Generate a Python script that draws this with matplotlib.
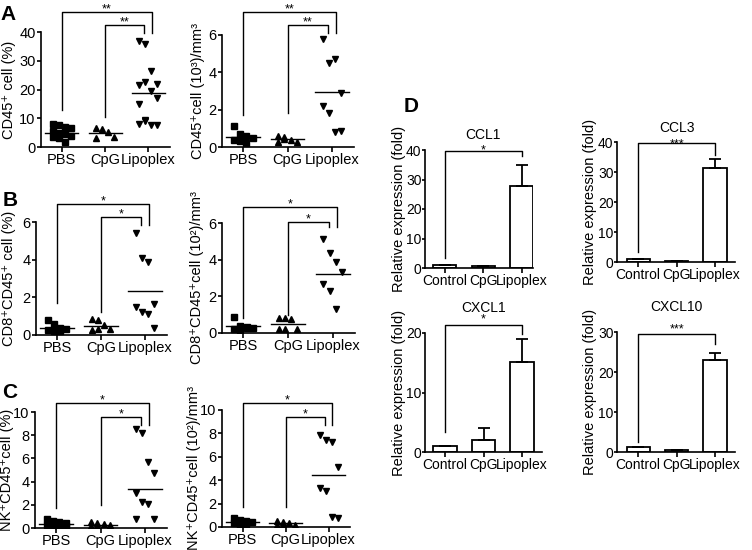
import matplotlib
matplotlib.use("Agg")
import matplotlib.pyplot as plt
import numpy as np

plt.rcParams['font.family'] = ['Liberation Sans', 'DejaVu Sans']
plt.rcParams['axes.linewidth'] = 1.2

groups = ['PBS', 'CpG', 'Lipoplex']
bar_groups = ['Control', 'CpG', 'Lipoplex']

# A: CD45+ cells
cd45_pct = [[8, 7.8, 7, 6.5, 5.5, 5, 4.5, 4, 3.5, 3, 1.8],
            [6.5, 6.2, 5.2, 3.4, 3.0],
            [37, 36, 26.5, 22, 21.5, 22.5, 19.5, 17, 15, 9, 7.5, 7.5, 8, 9.5]]
cd45_pct_mean = [5.0, 5.0, 18.9]
cd45_cnt = [[1.1, 0.7, 0.6, 0.5, 0.4, 0.3, 0.2],
            [0.6, 0.55, 0.35, 0.25, 0.25, 0.45],
            [5.8, 4.5, 4.7, 2.9, 2.2, 1.8, 0.8, 0.85]]
cd45_cnt_mean = [0.54, 0.41, 2.95]

# B: CD8+CD45+ cells
cd8_pct = [[0.8, 0.6, 0.35, 0.3, 0.25, 0.2, 0.2],
           [0.85, 0.8, 0.55, 0.3, 0.25, 0.3],
           [5.4, 4.1, 3.85, 1.65, 1.5, 1.2, 1.1, 0.35]]
cd8_pct_mean = [0.39, 0.49, 2.35]
cd8_cnt = [[0.9, 0.4, 0.35, 0.3, 0.2, 0.15, 0.25],
           [0.8, 0.8, 0.75, 0.2, 0.2, 0.2],
           [5.15, 4.35, 3.9, 3.35, 2.65, 2.3, 1.3]]
cd8_cnt_mean = [0.36, 0.49, 3.2]

# C: NK+CD45+ cells
nk_pct = [[0.8, 0.6, 0.5, 0.4, 0.3, 0.2, 0.1, 0.2],
          [0.5, 0.4, 0.35, 0.25, 0.15, 0.15],
          [8.5, 8.2, 5.7, 4.7, 3.0, 2.2, 2.1, 0.8, 0.75]]
nk_pct_mean = [0.34, 0.29, 3.4]
nk_cnt = [[0.8, 0.6, 0.5, 0.4, 0.3, 0.2, 0.2],
          [0.5, 0.4, 0.3, 0.2, 0.15, 0.2],
          [7.85, 7.4, 7.3, 5.1, 3.3, 3.1, 0.85, 0.75]]
nk_cnt_mean = [0.43, 0.32, 4.43]

# D: relative expression (fold)
ccl1 = [0.9, 0.55, 27.8]
ccl1_err = [0, 0, 7.0]
ccl3 = [1.0, 0.4, 31.3]
ccl3_err = [0, 0, 2.9]
cxcl1 = [1.0, 2.1, 15.15]
cxcl1_err = [0, 2.0, 3.9]
cxcl10 = [1.15, 0.4, 23.1]
cxcl10_err = [0, 0.2, 1.7]

W, H = 752, 550
fig = plt.figure(figsize=(W / 100, H / 100), dpi=100)
PT = 72 / 100  # points per pixel


def px_axes(l, t, r, b):
    return fig.add_axes([l / W, 1 - b / H, (r - l) / W, (b - t) / H])


def style(ax, box, ylim, yticks, ylabel, label_x, xlabels, xlim, fs, tlen, tpad):
    ax.spines['top'].set_visible(False)
    ax.spines['right'].set_visible(False)
    ax.set_ylim(*ylim)
    ax.set_xlim(*xlim)
    ax.set_yticks(yticks)
    ax.set_xticks(range(3))
    ax.set_xticklabels(xlabels)
    ax.tick_params(direction='out', length=3.5, width=1.2, labelsize=fs, pad=1)
    ax.tick_params(axis='y', length=tlen, pad=tpad)
    ax.set_ylabel(ylabel, fontsize=10.5, va='center')
    l, t, r, b = box
    ax.yaxis.set_label_coords((label_x - l) / (r - l), 0.5)


def star(ax, x, y, s, above_px):
    # asterisk glyph centre sits ~0.58 em above the baseline
    off = above_px - 0.58 * 9 / PT
    ax.annotate(s, (x, y), xytext=(0, off * PT), textcoords='offset points',
                ha='center', va='baseline', fontsize=9, annotation_clip=False)


def scatter_panel(box, data, means, ylim, yticks, ylabel, label_x, stars, br):
    ax = px_axes(*box)
    for i, (vals, m, mk) in enumerate(zip(data, means, ['s', '^', 'v'])):
        offs = (np.arange(len(vals)) % 4 - 1.5) * 0.14
        ax.plot(i + offs, vals, ls='none', marker=mk, color='black', ms=5)
        ax.plot([i - 0.38, i + 0.38], [m, m], color='black', lw=1)
    outer, inner, b0, b1, rend = br
    ax.plot([0, 0, 2.09, 2.09], [b0, outer, outer, rend], color='black', lw=1, clip_on=False)
    ax.plot([1, 1, 1.91, 1.91], [b1, inner, inner, rend], color='black', lw=1, clip_on=False)
    star(ax, 1.045, outer, stars, 7)
    star(ax, 1.455, inner, stars, 7)
    style(ax, box, ylim, yticks, ylabel, label_x, groups, (-0.48, 2.5), 10.5, 3, 0.8)
    return ax


def bar_panel(box, vals, err, ylim, yticks, label_x, title, title_y, stars, star_px, br, xlim):
    ax = px_axes(*box)
    x = np.arange(3)
    ax.bar(x, vals, width=0.6, color='white', edgecolor='black', linewidth=1.3, zorder=2)
    ax.errorbar(x, vals, yerr=[np.zeros(3), err], fmt='none', ecolor='black',
                elinewidth=1.3, capsize=4.5, capthick=1.3, zorder=3)
    top, b0, b2 = br
    ax.plot([0, 0, 2, 2], [b0, top, top, b2], color='black', lw=1, clip_on=False)
    star(ax, 1, top, stars, star_px)
    style(ax, box, ylim, yticks, 'Relative expression (fold)', label_x, bar_groups, xlim, 10, 2, 0.5)
    l, t, r, b = box
    ax.text(1, (t - title_y) / (b - t) + 1, title, fontsize=10, ha='center', va='center',
            transform=ax.get_xaxis_transform())
    return ax


scatter_panel((41, 32, 170, 147), cd45_pct, cd45_pct_mean, (0, 40), [0, 10, 20, 30, 40],
              'CD45\u207a cell (%)', 9, '**', (47, 42.4, 12.8, 10.3, 39.6))
scatter_panel((222, 35, 354, 147), cd45_cnt, cd45_cnt_mean, (0, 6), [0, 2, 4, 6],
              'CD45\u207acell (10\u00b3)/mm\u00b3', 198, '**', (7.23, 6.54, 1.71, 1.82, 6.1))
scatter_panel((36, 222, 167, 335), cd8_pct, cd8_pct_mean, (0, 6), [0, 2, 4, 6],
              'CD8\u207aCD45\u207a cell (%)', 9, '*', (6.96, 6.27, 1.7, 1.22, 5.85))
scatter_panel((222, 223, 355, 333), cd8_cnt, cd8_cnt_mean, (0, 6), [0, 2, 4, 6],
              'CD8\u207aCD45\u207acell (10\u00b2)/mm\u00b3', 197, '*', (6.87, 6.05, 0.82, 0.98, 5.78))
scatter_panel((35, 412, 167, 528), nk_pct, nk_pct_mean, (0, 10), [0, 2, 4, 6, 8, 10],
              'NK\u207aCD45\u207acell (%)', 7, '*', (10.8, 9.57, 1.7, 2.0, 8.9))
scatter_panel((222, 410, 350, 527), nk_cnt, nk_cnt_mean, (0, 10), [0, 2, 4, 6, 8, 10],
              'NK\u207aCD45\u207acell (10\u00b2)/mm\u00b3', 194, '*', (10.6, 9.4, 1.7, 1.7, 8.7))

bar_panel((425, 150, 533, 268), ccl1, ccl1_err, (0, 40), [0, 10, 20, 30, 40], 399,
          'CCL1', 135, '*', 5, (39.7, 3.4, 37.8), (-0.52, 2.3))
bar_panel((617, 142, 735, 262), ccl3, ccl3_err, (0, 40), [0, 10, 20, 30, 40], 590,
          'CCL3', 128, '***', 3, (39.7, 3.3, 35.7), (-0.55, 2.52))
bar_panel((425, 333, 542, 452), cxcl1, cxcl1_err, (0, 20), [0, 10, 20], 399,
          'CXCL1', 308, '*', 10, (21.3, 3.4, 19.8), (-0.52, 2.52))
bar_panel((617, 332, 735, 452), cxcl10, cxcl10_err, (0, 30), [0, 10, 20, 30], 590,
          'CXCL10', 307, '***', 8, (29.6, 2.5, 27), (-0.55, 2.52))

for letter, (px, py) in zip('ABCD', [(8, 14), (10, 200), (10, 392), (411, 107)]):
    fig.text(px / W, 1 - py / H, letter, fontsize=15, fontweight='bold', ha='center', va='center')

fig.savefig('out.png', dpi=100)
